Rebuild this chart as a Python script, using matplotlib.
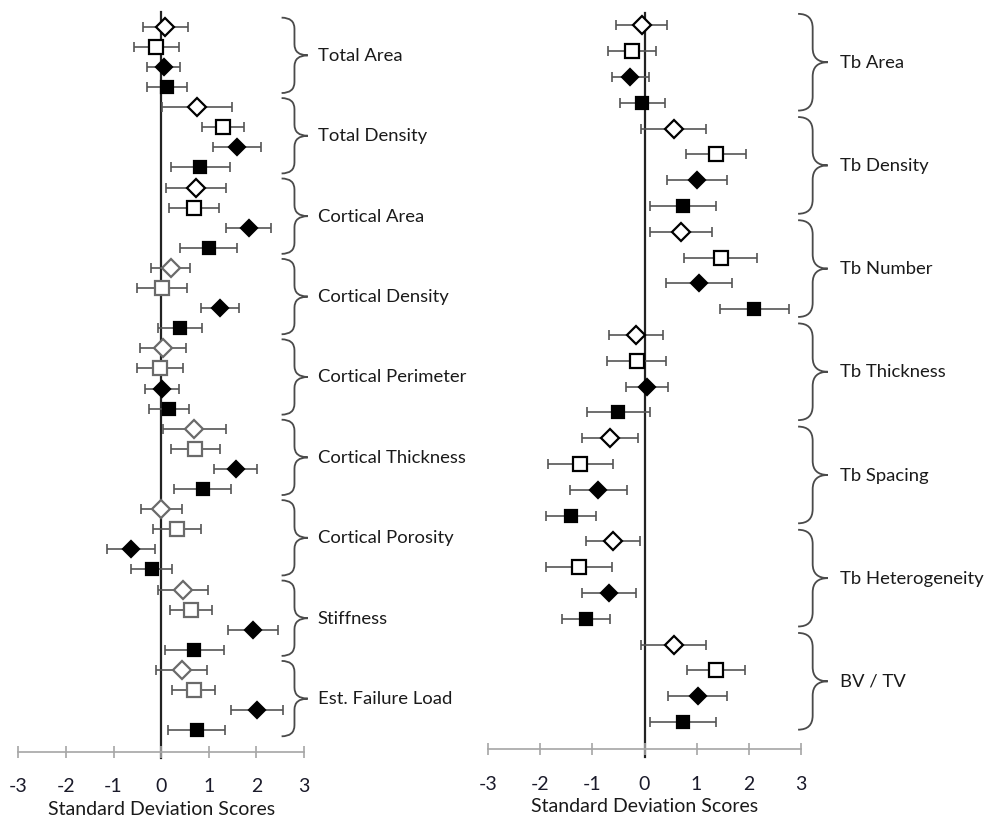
"""Standard deviation scores (mean +/- error) for cortical and trabecular bone measures."""

import matplotlib

matplotlib.use("Agg")
import matplotlib.pyplot as plt
from matplotlib.path import Path
from matplotlib.patches import PathPatch

plt.rcParams["font.family"] = ["Lato", "DejaVu Sans"]

# marker order within every group: open diamond, open square, filled diamond, filled square
cort_labels = ["Total Area", "Total Density", "Cortical Area", "Cortical Density",
               "Cortical Perimeter", "Cortical Thickness", "Cortical Porosity",
               "Stiffness", "Est. Failure Load"]
cort_mean = [
    [0.09, -0.10, 0.05, 0.13],
    [0.75, 1.30, 1.59, 0.82],
    [0.74, 0.69, 1.84, 1.00],
    [0.20, 0.02, 1.24, 0.39],
    [0.04, -0.03, 0.02, 0.16],
    [0.70, 0.72, 1.57, 0.87],
    [0.00, 0.33, -0.63, -0.20],
    [0.46, 0.62, 1.93, 0.70],
    [0.43, 0.68, 2.01, 0.75],
]
cort_err = [
    [0.47, 0.47, 0.35, 0.42],
    [0.74, 0.44, 0.50, 0.62],
    [0.63, 0.53, 0.47, 0.60],
    [0.41, 0.53, 0.40, 0.46],
    [0.49, 0.48, 0.36, 0.42],
    [0.66, 0.52, 0.45, 0.60],
    [0.43, 0.51, 0.50, 0.43],
    [0.53, 0.44, 0.53, 0.61],
    [0.53, 0.46, 0.55, 0.60],
]
# open markers drawn in grey for the lower cortical groups
cort_open_edge = ["black", "black", "black", "#6a6a6a", "#6a6a6a", "#6a6a6a",
                  "#6a6a6a", "#6a6a6a", "#6a6a6a"]

trab_labels = ["Tb Area", "Tb Density", "Tb Number", "Tb Thickness", "Tb Spacing",
               "Tb Heterogeneity", "BV / TV"]
trab_mean = [
    [-0.05, -0.24, -0.27, -0.04],
    [0.56, 1.37, 1.01, 0.74],
    [0.70, 1.46, 1.05, 2.11],
    [-0.17, -0.15, 0.05, -0.50],
    [-0.67, -1.23, -0.89, -1.41],
    [-0.61, -1.26, -0.69, -1.13],
    [0.56, 1.37, 1.02, 0.74],
]
trab_err = [
    [0.49, 0.46, 0.36, 0.44],
    [0.63, 0.57, 0.57, 0.63],
    [0.59, 0.71, 0.64, 0.66],
    [0.52, 0.57, 0.41, 0.60],
    [0.54, 0.62, 0.55, 0.48],
    [0.52, 0.63, 0.52, 0.46],
    [0.63, 0.56, 0.57, 0.63],
]
trab_open_edge = ["black"] * len(trab_labels)

xticks = [-3, -2, -1, 0, 1, 2, 3]
MARKERS = [("D", False, 9.5), ("s", False, 9.5), ("D", True, 8.5), ("s", True, 9.0)]


def draw_brace(ax, top, bot, x0, x1, x2, r):
    mid = (top + bot) / 2
    verts = [
        (x0, top), (x1, top), (x1, top + r),
        (x1, mid - r),
        (x1, mid), (x2, mid),
        (x1, mid), (x1, mid + r),
        (x1, bot - r),
        (x1, bot), (x0, bot),
    ]
    codes = [Path.MOVETO, Path.CURVE3, Path.CURVE3, Path.LINETO,
             Path.CURVE3, Path.CURVE3, Path.CURVE3, Path.CURVE3,
             Path.LINETO, Path.CURVE3, Path.CURVE3]
    ax.add_patch(PathPatch(Path(verts, codes), facecolor="none", edgecolor="#4a4a4a",
                           lw=1.3, clip_on=False))


def panel(ax, labels, means, errs, open_edges, ylim, brace_x, label_x):
    n = len(labels)
    ax.plot([0, 0], [ylim[1], ylim[0] + 0.3], color="#222222", lw=1.6, zorder=1,
            clip_on=False)
    for g in range(n):
        for k, (mk, filled, ms) in enumerate(MARKERS):
            y = 4 * g + k
            edge = "black" if filled else open_edges[g]
            ax.errorbar(means[g][k], y, xerr=errs[g][k], fmt="none", ecolor="#555555",
                        elinewidth=1.2, capsize=3.5, capthick=1.2, zorder=2)
            ax.plot(means[g][k], y, marker=mk, ms=ms, mew=1.6, mec=edge,
                    mfc="black" if filled else "white", ls="none", zorder=3)
        draw_brace(ax, 4 * g - 0.45, 4 * g + 3.3, *brace_x, r=0.55)
        ax.text(label_x, 4 * g + 1.45, labels[g], fontsize=13.3, color="#1a1a1a",
                va="center", ha="left", clip_on=False)
    ax.set_xlim(-3, 3)
    ax.set_ylim(*ylim)
    ax.set_xticks(xticks)
    ax.set_xticklabels([str(t) for t in xticks], fontsize=14, color="#1a1a2a")
    ax.set_yticks([])
    for side in ["top", "left", "right"]:
        ax.spines[side].set_visible(False)
    ax.spines["bottom"].set_color("#a6a6a6")
    ax.spines["bottom"].set_linewidth(1.2)
    ax.tick_params(axis="x", direction="inout", length=8, width=1.2, color="#a6a6a6",
                   pad=15)
    ax.set_xlabel("Standard Deviation Scores", fontsize=14, color="#1a1a1a",
                  labelpad=4)


fig = plt.figure(figsize=(9.98, 8.18), dpi=100)
ax_l = fig.add_axes([0.0183, 0.0807, 0.2863, 0.9046])
ax_r = fig.add_axes([0.4893, 0.0840, 0.3130, 0.9000])

panel(ax_l, cort_labels, cort_mean, cort_err, cort_open_edge, (36.08, -0.73),
      (2.53, 2.80, 3.08), 3.29)
panel(ax_r, trab_labels, trab_mean, trab_err, trab_open_edge, (28.06, -0.48),
      (2.95, 3.23, 3.52), 3.75)

fig.savefig("out.png", dpi=100)
